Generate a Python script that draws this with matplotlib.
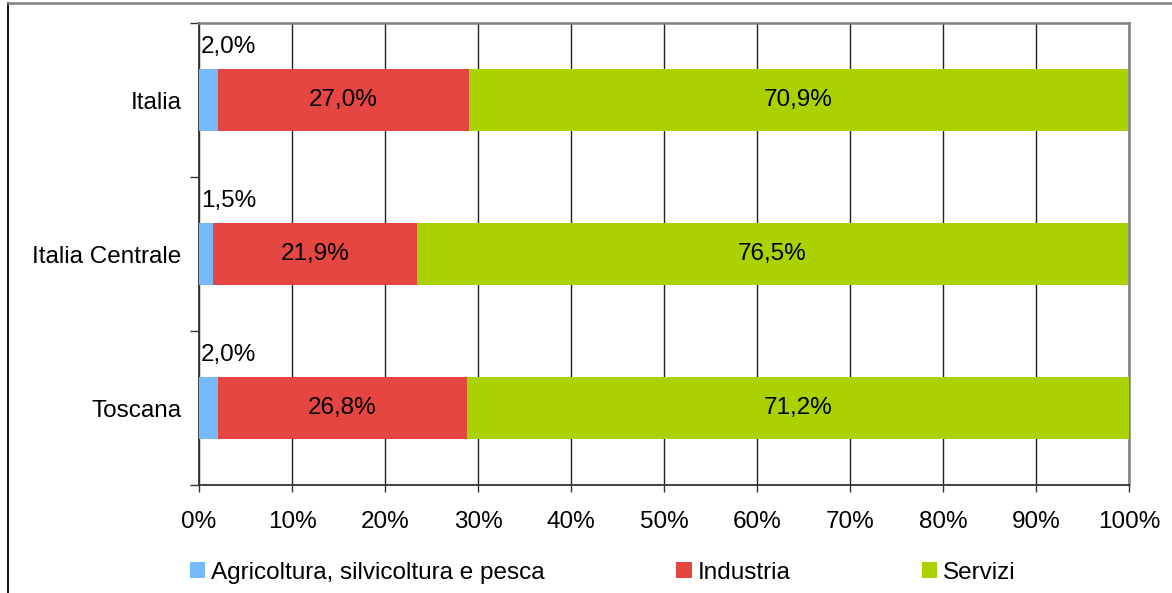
import matplotlib
matplotlib.use("Agg")
import matplotlib.pyplot as plt
from matplotlib.lines import Line2D
import numpy as np

plt.rcParams['font.family'] = ['Liberation Sans', 'DejaVu Sans']

categories = ["Italia", "Italia Centrale", "Toscana"]
series_names = ["Agricoltura, silvicoltura e pesca", "Industria", "Servizi"]
agricoltura = [2.0, 1.5, 2.0]
industria = [27.0, 21.9, 26.8]
servizi = [70.9, 76.5, 71.2]
colors = ["#75B9FF", "#E64641", "#AAD200"]
xticks = [0, 10, 20, 30, 40, 50, 60, 70, 80, 90, 100]

FS = 17.5

fig = plt.figure(figsize=(11.72, 5.93), dpi=100)
ax = fig.add_axes([199/1172, 1-485/593, (1129-199)/1172, (485-23)/593])

y = np.arange(len(categories))
series = [agricoltura, industria, servizi]
left = np.zeros(len(categories))
bar_h = 0.4
for vals, col, name in zip(series, colors, series_names):
    v = np.array(vals)
    ax.barh(y, v, left=left, height=bar_h, color=col, label=name, zorder=3)
    left = left + v

# labels
for i in range(len(categories)):
    a, ind, s = agricoltura[i], industria[i], servizi[i]
    ax.annotate(f"{a:.1f}%".replace(".", ","), xy=(0, i - bar_h/2), xytext=(1.5, 16),
                textcoords="offset points", ha="left", va="center", fontsize=FS)
    ax.text(a + ind/2, i, f"{ind:.1f}%".replace(".", ","), ha="center", va="center", fontsize=FS, zorder=4)
    ax.text(a + ind + s/2, i, f"{s:.1f}%".replace(".", ","), ha="center", va="center", fontsize=FS, zorder=4)

ax.set_xlim(0, 100)
ax.set_ylim(2.5, -0.5)
ax.set_xticks(xticks)
ax.set_xticklabels([f"{t}%" for t in xticks], fontsize=FS)
ax.set_yticks(y)
ax.set_yticklabels(categories, fontsize=FS)
ax.set_yticks([-0.5, 0.5, 1.5, 2.5], minor=True)
ax.tick_params(axis='y', which='major', length=0, pad=12.5)
ax.tick_params(axis='y', which='minor', length=6.5, width=1, color='#333333')
ax.tick_params(axis='x', which='major', length=5, width=1, color='#333333', pad=13.5)
ax.xaxis.grid(True, color='#222222', linewidth=1, zorder=0)
ax.set_axisbelow(True)
for sp in ['top', 'right']:
    ax.spines[sp].set_color('#808080')
    ax.spines[sp].set_linewidth(1.8)
for sp in ['left', 'bottom']:
    ax.spines[sp].set_color('#333333')
    ax.spines[sp].set_linewidth(1.3)

fig.legend(loc='center', bbox_to_anchor=(603/1172, 1-573/593), ncol=3, frameon=False,
           fontsize=FS, handlelength=0.63, handleheight=0.63, handletextpad=0.25,
           columnspacing=5.4, borderpad=0)

# outer frame
fig.add_artist(Line2D([8/1172, 8/1172], [0, 1-3/593], transform=fig.transFigure, color='black', lw=1.3))
fig.add_artist(Line2D([8/1172, 1], [1-3/593, 1-3/593], transform=fig.transFigure, color='#808080', lw=1.8))

fig.savefig("out.png", dpi=100)
